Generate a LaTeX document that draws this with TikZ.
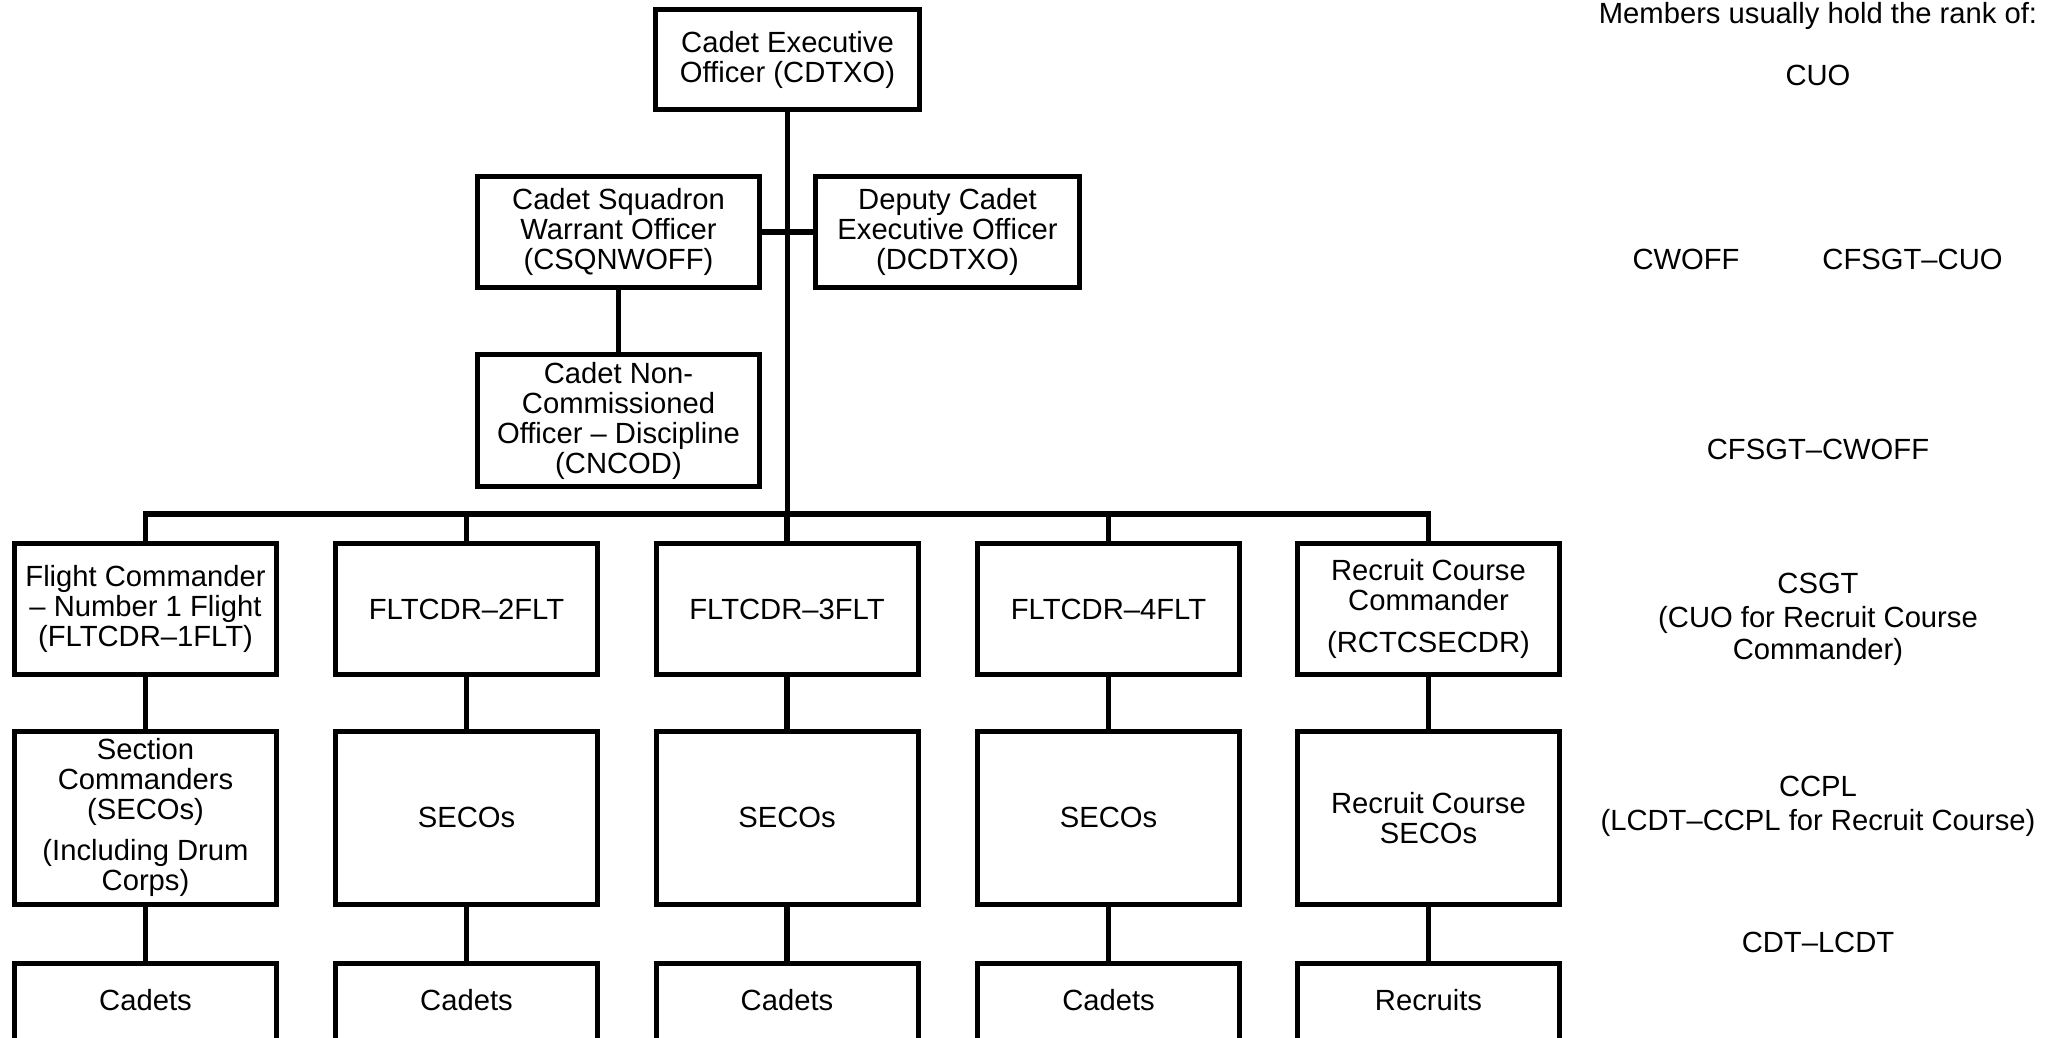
\documentclass[tikz,border=0pt]{standalone}
\usepackage{fontspec}
\setmainfont{Liberation Sans}
\newcommand\boxfont{\fontsize{14.6pt}{15pt}\selectfont}
\tikzset{
  box/.style={draw, line width=2.5pt, inner sep=0pt, align=center, font=\boxfont},
  flightbox/.style={box, minimum width=131pt, minimum height=65.5pt},
  secobox/.style={box, minimum width=131pt, minimum height=86.25pt},
  basebox/.style={box, minimum width=131pt, minimum height=0pt, text height=23.5pt, text depth=30pt, anchor=north},
  conn/.style={line width=2.75pt},
  rank/.style={anchor=base, inner sep=0pt, font=\boxfont}
}
\begin{document}
\begin{tikzpicture}[x=0.5pt, y=-0.5pt]
\useasboundingbox (0,0) rectangle (2062,1038);
\clip (0,0) rectangle (2062,1038);

% upper command
\node[box, minimum width=132pt, minimum height=50pt] (xo) at (787.5,59.5) {Cadet Executive\\Officer (CDTXO)};
\node[box, minimum width=141pt, minimum height=55.5pt] (wo) at (618.5,232) {Cadet Squadron\\Warrant Officer\\(CSQNWOFF)};
\node[box, minimum width=132pt, minimum height=55.5pt] (dxo) at (947.5,232) {Deputy Cadet\\Executive Officer\\(DCDTXO)};
\node[box, minimum width=141pt, minimum height=66pt] (nco) at (618.5,420.5) {Cadet Non-\\Commissioned\\Officer -- Discipline\\(CNCOD)};

% flight commanders
\node[flightbox] (f1) at (145.5,609) {Flight Commander\\-- Number 1 Flight\\(FLTCDR--1FLT)};
\node[flightbox] (f2) at (466.5,609) {FLTCDR--2FLT};
\node[flightbox] (f3) at (787,609) {FLTCDR--3FLT};
\node[flightbox] (f4) at (1108.5,609) {FLTCDR--4FLT};
\node[flightbox] (f5) at (1428.5,609) {Recruit Course\\Commander\\[5.6pt](RCTCSECDR)};

% section commanders
\node[secobox] (s1) at (145.5,817.75) {Section\\Commanders\\(SECOs)\\[5.5pt](Including Drum\\Corps)};
\node[secobox] (s2) at (466.5,817.75) {SECOs};
\node[secobox] (s3) at (787,817.75) {SECOs};
\node[secobox] (s4) at (1108.5,817.75) {SECOs};
\node[secobox] (s5) at (1428.5,817.75) {Recruit Course\\SECOs};

% cadets
\node[basebox] (c1) at (145.5,961) {Cadets};
\node[basebox] (c2) at (466.5,961) {Cadets};
\node[basebox] (c3) at (787,961) {Cadets};
\node[basebox] (c4) at (1108.5,961) {Cadets};
\node[basebox] (c5) at (1428.5,961) {Recruits};

% connectors
\coordinate (hub) at (787,514);
\draw[conn] (xo.south) -- (xo.south |- hub);
\draw[conn] (wo.east) -- (dxo.west);
\draw[conn] (wo.south) -- (nco.north);
\draw[conn] (f1.north) |- (hub) -| (f5.north);
\draw[conn] (f2.north) -- (f2.north |- hub);
\draw[conn] (f3.north) -- (f3.north |- hub);
\draw[conn] (f4.north) -- (f4.north |- hub);
\foreach \i in {1,...,5}{
  \draw[conn] (f\i.south) -- (s\i.north);
  \draw[conn] (s\i.south) -- (c\i.north);
}

% ranks
\node[rank] (rhead) at (1818,23.3) {Members usually hold the rank of:};
\node[rank] (r1) at (1818,86) {CUO};
\node[rank] (r2a) at (1686,269.3) {CWOFF};
\node[rank] (r2b) at (1912.5,269.3) {CFSGT--CUO};
\node[rank] (r3) at (1818,459.3) {CFSGT--CWOFF};
\node[rank] (r4a) at (1818,593.3) {CSGT};
\node[rank] (r4b) at (1818,627.3) {(CUO for Recruit Course};
\node[rank] (r4c) at (1818,659.3) {Commander)};
\node[rank] (r5a) at (1818,796) {CCPL};
\node[rank] (r5b) at (1818,830.7) {(LCDT--CCPL for Recruit Course)};
\node[rank] (r6) at (1818,952.3) {CDT--LCDT};
\end{tikzpicture}
\end{document}
